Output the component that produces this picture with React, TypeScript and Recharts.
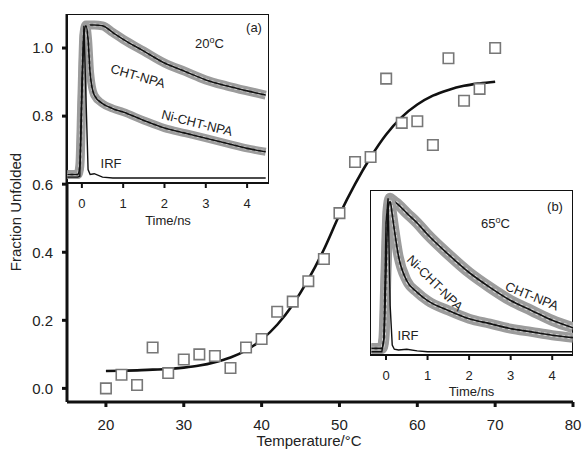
import React from "react";
import {
  ComposedChart,
  LineChart,
  Line,
  Scatter,
  XAxis,
  YAxis,
  ZAxis,
  Label,
  ReferenceArea,
} from "recharts";

// main panel: melting curve
const temps = [20, 22, 24, 26, 28, 30, 32, 34, 36, 38, 40, 42, 44, 46, 48, 50, 52, 54, 56, 58, 60, 62, 64, 66, 68, 70];
const fraction = [0.0, 0.04, 0.01, 0.12, 0.045, 0.085, 0.1, 0.095, 0.06, 0.12, 0.145, 0.225, 0.255, 0.315, 0.38, 0.515, 0.665, 0.68, 0.91, 0.78, 0.785, 0.715, 0.97, 0.845, 0.88, 1.0];
const fitFraction = [0.051, 0.052, 0.053, 0.055, 0.057, 0.061, 0.067, 0.077, 0.091, 0.112, 0.143, 0.187, 0.246, 0.32, 0.408, 0.51, 0.6, 0.679, 0.746, 0.797, 0.834, 0.86, 0.877, 0.889, 0.896, 0.901];
const tempTicks = [20, 30, 40, 50, 60, 70, 80];
const fracTicks = [0, 0.2, 0.4, 0.6, 0.8, 1.0];

// inset (a), 20 C decays (normalised to the inset height)
const timeA = [-0.35, -0.1, -0.05, 0, 0.05, 0.1, 0.15, 0.2, 0.3, 0.5, 0.75, 1, 1.5, 2, 2.5, 3, 3.5, 4, 4.45];
const chtA = [0.05, 0.05, 0.1, 0.5, 0.88, 0.935, 0.935, 0.935, 0.935, 0.93, 0.89, 0.85, 0.78, 0.71, 0.66, 0.61, 0.575, 0.545, 0.52];
const niA = [0.05, 0.05, 0.1, 0.5, 0.88, 0.93, 0.85, 0.65, 0.52, 0.47, 0.44, 0.42, 0.37, 0.325, 0.295, 0.265, 0.235, 0.205, 0.185];
const irfA = [0.035, 0.035, 0.04, 0.6, 0.93, 0.5, 0.08, 0.05, 0.055, 0.035, 0.03, 0.03, 0.03, 0.03, 0.03, 0.03, 0.03, 0.03, 0.03];

// inset (b), 65 C decays
const timeB = [-0.35, -0.1, -0.05, 0, 0.05, 0.1, 0.15, 0.2, 0.3, 0.5, 0.75, 1, 1.5, 2, 2.5, 3, 3.5, 4, 4.5];
const chtB = [0.04, 0.04, 0.1, 0.5, 0.88, 0.95, 0.94, 0.93, 0.91, 0.86, 0.8, 0.73, 0.61, 0.5, 0.41, 0.33, 0.27, 0.21, 0.165];
const niB = [0.04, 0.04, 0.1, 0.5, 0.88, 0.93, 0.85, 0.76, 0.6, 0.45, 0.38, 0.33, 0.27, 0.22, 0.19, 0.16, 0.14, 0.12, 0.105];
const irfB = [0.02, 0.02, 0.1, 0.8, 0.95, 0.3, 0.06, 0.035, 0.03, 0.035, 0.025, 0.02, 0.02, 0.02, 0.02, 0.02, 0.02, 0.02, 0.02];

const timeTicks = [0, 1, 2, 3, 4];

const FONT = "'Liberation Sans', Arial, sans-serif";

const meltData = temps.map((t, i) => ({ t, f: fraction[i] }));
const fitData = temps.map((t, i) => ({ t, f: fitFraction[i] }));
const insetA = timeA.map((t, i) => ({ t, cht: chtA[i], ni: niA[i], irf: irfA[i] }));
const insetB = timeB.map((t, i) => ({ t, cht: chtB[i], ni: niB[i], irf: irfB[i] }));

const tickStyle = { fontSize: 15, fill: "#222", fontFamily: FONT };
const smallTick = { fontSize: 13, fill: "#222", fontFamily: FONT };

// gray band of measured points, thin black fit on top
const band = (key: string, w: number) => [
  <Line key={key + "-o"} dataKey={key} type="monotone" stroke="#9c9c9c" strokeWidth={w} dot={false} isAnimationActive={false} strokeLinejoin="round" />,
  <Line key={key + "-i"} dataKey={key} type="monotone" stroke="#d4d4d4" strokeWidth={w * 0.35} strokeDasharray="3 3" dot={false} isAnimationActive={false} />,
  <Line key={key + "-f"} dataKey={key} type="monotone" stroke="#111" strokeWidth={1.6} dot={false} isAnimationActive={false} />,
];

const Inset = ({ data, domain, w, h, labelOff, bw }: any) => (
  <LineChart width={w} height={h + 45} data={data} margin={{ top: 0, right: 0, bottom: 0, left: 0 }}>
    <XAxis
      dataKey="t"
      type="number"
      domain={domain}
      ticks={timeTicks}
      tick={smallTick}
      tickSize={5}
      tickMargin={11}
      height={45}
      stroke="#111"
      strokeWidth={2}
    >
      <Label value="Time/ns" position="insideBottom" offset={labelOff} style={{ fontSize: 13, fill: "#222", fontFamily: FONT }} />
    </XAxis>
    <YAxis hide domain={[0, 1]} />
    <ReferenceArea x1={domain[0]} x2={domain[1]} y1={0} y2={1} fill="#fff" fillOpacity={1} stroke="#111" strokeWidth={2} />
    {band("cht", bw)}
    {band("ni", bw - 1)}
    <Line dataKey="irf" type="linear" stroke="#111" strokeWidth={1.4} dot={false} isAnimationActive={false} />
  </LineChart>
);

const Sup = ({ x, y, pre }: any) => (
  <text x={x} y={y} fontSize={13} fontFamily={FONT} fill="#222">
    {pre}
    <tspan dy={-5} fontSize={9}>o</tspan>
    <tspan dy={5}>C</tspan>
  </text>
);

const Note = ({ x, y, a, children }: any) => (
  <text
    x={x}
    y={y}
    fontSize={13}
    fontFamily={FONT}
    fill="#222"
    textAnchor="middle"
    dominantBaseline="central"
    transform={a ? `rotate(${a} ${x} ${y})` : undefined}
  >
    {children}
  </text>
);

export default function App() {
  return (
    <div style={{ position: "absolute", left: 0, top: 0, width: 582, height: 449, background: "#fff" }}>
      <ComposedChart width={582} height={449} margin={{ top: 14, right: 9, bottom: 0, left: 0 }}>
        <XAxis
          dataKey="t"
          type="number"
          domain={[15, 80]}
          ticks={tempTicks}
          tick={tickStyle}
          tickSize={5}
          tickMargin={12}
          height={47}
          stroke="#111"
          strokeWidth={3}
        >
          <Label value="Temperature/°C" position="insideBottom" offset={3} dx={-11} style={{ fontSize: 15, fill: "#222", fontFamily: FONT }} />
        </XAxis>
        <XAxis xAxisId="top" orientation="top" type="number" domain={[15, 80]} tick={false} tickLine={false} height={0} stroke="#111" strokeWidth={3} />
        <YAxis
          type="number"
          domain={[-0.04, 1.1]}
          ticks={fracTicks}
          tickFormatter={(v: number) => v.toFixed(1)}
          tick={tickStyle}
          tickSize={5}
          tickMargin={9}
          width={67}
          stroke="#111"
          strokeWidth={3}
        >
          <Label value="Fraction Unfolded" angle={-90} position="insideLeft" offset={16} dy={4} style={{ fontSize: 15, fill: "#222", fontFamily: FONT, textAnchor: "middle" }} />
        </YAxis>
        <YAxis yAxisId="right" orientation="right" type="number" domain={[-0.04, 1.1]} tick={false} tickLine={false} width={0} stroke="#111" strokeWidth={3} />
        <ZAxis range={[110, 110]} />
        <Line data={fitData} dataKey="f" type="monotone" stroke="#111" strokeWidth={2.6} dot={false} isAnimationActive={false} />
        <Scatter data={meltData} dataKey="f" shape="square" fill="#fff" stroke="#777" strokeWidth={1.6} isAnimationActive={false} />
      </ComposedChart>

      <div style={{ position: "absolute", left: 67, top: 14 }}>
        <Inset data={insetA} domain={[-0.36, 4.53]} w={202} h={169} labelOff={3} bw={9} />
      </div>
      <div style={{ position: "absolute", left: 370, top: 190 }}>
        <Inset data={insetB} domain={[-0.385, 4.5]} w={203} h={165} labelOff={4} bw={11} />
      </div>

      <svg width={582} height={449} style={{ position: "absolute", left: 0, top: 0, pointerEvents: "none" }}>
        <Note x={254} y={27}>(a)</Note>
        <Sup x={195} y={48} pre="20" />
        <Note x={138} y={76} a={16}>CHT-NPA</Note>
        <Note x={197} y={123} a={14}>Ni-CHT-NPA</Note>
        <Note x={111} y={163}>IRF</Note>
        <Note x={555} y={206}>(b)</Note>
        <Sup x={481} y={228} pre="65" />
        <Note x={532} y={296} a={22}>CHT-NPA</Note>
        <Note x={435} y={283} a={45}>Ni-CHT-NPA</Note>
        <Note x={408} y={335}>IRF</Note>
      </svg>
    </div>
  );
}
